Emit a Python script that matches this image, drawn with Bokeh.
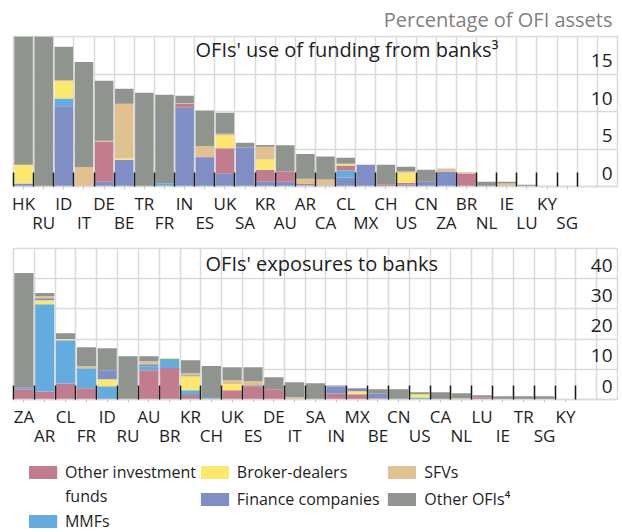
from bokeh.plotting import figure
from bokeh.models import Range1d, LinearAxis, FixedTicker, Grid, ColumnDataSource, Label
from bokeh.layouts import column
from bokeh.embed import file_html
from bokeh.resources import INLINE
from bokeh.core.properties import value

FONT = "Open Sans"

colors = {"oif": "#C17D8D", "mmf": "#64ACE0", "broker": "#FDE86E",
          "finance": "#7F8FC6", "sfv": "#E0C18F", "other": "#8F958E"}

# ---- Panel 1: OFIs' use of funding from banks ----
top_countries = ["HK", "RU", "ID", "IT", "DE", "BE", "TR", "FR", "IN", "ES", "UK", "SA", "KR", "AU",
                 "AR", "CA", "CL", "MX", "CH", "US", "CN", "ZA", "BR", "NL", "IE", "LU", "KY", "SG"]
top_finance = [0.4, 0, 10.7, 0, 0.65, 3.55, 0, 0, 10.5, 3.9, 1.7, 5.2, 0.65, 0.65,
               0.1, 0, 1.2, 2.9, 0, 0.25, 0.65, 2.0, 0, 0, 0, 0, 0, 0]
top_mmf = [0, 0, 1.05, 0, 0, 0, 0, 0.45, 0, 0, 0, 0, 0, 0,
           0.1, 0, 0.95, 0, 0, 0, 0, 0, 0, 0, 0, 0, 0, 0]
top_oif = [0, 0, 0, 0, 5.3, 0, 0, 0, 0.5, 0.1, 3.4, 0, 1.6, 1.35,
           0.15, 0, 0.65, 0, 0.25, 0.25, 0, 0, 1.75, 0, 0, 0, 0, 0]
top_broker = [2.5, 0, 2.4, 0, 0, 0.2, 0, 0, 0, 0, 1.7, 0, 1.35, 0,
              0, 0, 0.25, 0, 0, 1.35, 0, 0, 0, 0, 0, 0, 0, 0]
top_sfv = [0, 0, 0, 2.6, 0.15, 7.3, 0, 0, 0.1, 1.4, 0.25, 0, 1.7, 0,
           0.7, 0.95, 0, 0, 0, 0.15, 0, 0.4, 0.15, 0, 0.4, 0, 0, 0]
top_other = [17.1, 20, 4.5, 14.0, 8.0, 2.0, 12.5, 11.8, 1.0, 4.75, 2.8, 0.65, 0.25, 3.5,
             3.3, 3.05, 0.8, 0, 2.65, 0.65, 1.6, 0, 0, 0.65, 0.25, 0.25, 0, 0]
top_ticks = [0, 5, 10, 15, 20]
top_tick_labels = ["0", "5", "10", "15", ""]

# ---- Panel 2: OFIs' exposures to banks ----
bot_countries = ["ZA", "AR", "CL", "FR", "ID", "RU", "AU", "BR", "KR", "CH", "UK", "ES", "DE", "IT",
                 "SA", "IN", "MX", "BE", "CN", "US", "CA", "NL", "LU", "IE", "TR", "SG", "KY"]
bot_oif = [3.4, 2.65, 5.3, 3.75, 0, 0, 9.7, 10.4, 1.45, 0.45, 3.1, 4.4, 3.4, 0,
           0, 2.0, 1.75, 0.45, 0, 0, 0, 0, 0.75, 0, 0, 0, 0]
bot_mmf = [0.5, 28.9, 14.3, 6.6, 4.4, 0, 1.3, 3.0, 1.65, 0.35, 0, 0, 0, 0,
           0, 0, 0, 0, 0, 0.65, 0, 0, 0, 0, 0, 0, 0]
bot_broker = [0, 1.3, 0.45, 0, 2.3, 0, 0, 0.35, 4.6, 0, 2.0, 0, 0, 0,
              0, 0, 1.0, 0, 0, 1.1, 0, 0, 0, 0, 0, 0, 0]
bot_finance = [0.25, 0.65, 0.3, 0, 3.0, 0, 0.65, 0, 0.35, 0, 0, 0.35, 0, 0,
               0, 2.3, 1.0, 1.5, 0, 0, 0, 0, 0, 0, 0, 0, 0]
bot_sfv = [0, 0.75, 0, 0.65, 0, 0, 1.0, 0, 0.65, 0, 1.3, 1.3, 0, 0.75,
           0, 0, 0, 0, 0, 0, 0, 0.45, 0, 0, 0, 0, 0]
bot_other = [37.7, 1.0, 1.55, 6.3, 7.3, 14.3, 1.65, 0, 4.3, 10.3, 4.3, 4.6, 4.0, 5.0,
             5.4, 0.35, 0, 1.45, 3.4, 0.65, 2.4, 1.65, 0.65, 1.1, 1.1, 1.1, 0]
bot_ticks = [0, 10, 20, 30, 40, 50]
bot_tick_labels = ["0", "10", "20", "30", "40", ""]

GRID = "#DADADA"
TXT = "#1E1E1E"


def make_panel(countries, data, stack_order, n_slots, ymax, ticks, tick_labels, title,
               height, border_top, border_bottom, title_xy, head=None):
    p = figure(width=622, height=height, x_range=Range1d(-0.5, n_slots - 0.5),
               y_range=Range1d(0, ymax), x_axis_type=None, y_axis_type=None,
               output_backend="svg", toolbar_location=None,
               min_border_left=13, min_border_right=5,
               min_border_top=border_top, min_border_bottom=border_bottom,
               title=head)
    p.outline_line_color = GRID
    p.outline_line_width = 1.5
    p.background_fill_color = "white"
    p.border_fill_color = "white"
    if head:
        p.title.align = "right"
        p.title.text_font = FONT
        p.title.text_font_size = "20px"
        p.title.text_font_style = "normal"
        p.title.text_color = "#808080"
        p.title.standoff = 7
        p.title.offset = 5
    n = len(countries)
    bounds = [i - 0.5 for i in range(n_slots + 1)]
    p.add_layout(Grid(dimension=0, ticker=FixedTicker(ticks=bounds),
                      grid_line_color=GRID, grid_line_width=1.5))
    p.add_layout(Grid(dimension=1, ticker=FixedTicker(ticks=ticks),
                      grid_line_color=GRID, grid_line_width=1.5))

    src = dict(x=list(range(n)))
    src.update(data)
    source = ColumnDataSource(src)
    p.vbar_stack(stack_order, x="x", width=0.92, source=source,
                 color=[colors[k] for k in stack_order], line_color=None)

    # category axis: first row labels + tick marks
    ax1 = LinearAxis(ticker=FixedTicker(ticks=list(range(n)),
                                        minor_ticks=[i - 0.5 for i in range(n + 1)]))
    ax1.major_label_overrides = {i: (c if i % 2 == 0 else "") for i, c in enumerate(countries)}
    ax1.axis_line_color = GRID
    ax1.axis_line_width = 1.5
    ax1.major_tick_line_color = "#C8C8C8"
    ax1.major_tick_out = 3
    ax1.major_tick_in = 0
    ax1.minor_tick_line_color = "#1A1A1A"
    ax1.minor_tick_line_width = 1.5
    ax1.minor_tick_in = 14
    ax1.minor_tick_out = 0
    ax1.major_label_standoff = 2
    ax1.major_label_text_font = FONT
    ax1.major_label_text_font_size = "17px"
    ax1.major_label_text_color = TXT
    p.add_layout(ax1, "below")
    # second row labels
    ax2 = LinearAxis(ticker=FixedTicker(ticks=[i for i in range(n) if i % 2 == 1]))
    ax2.major_label_overrides = {i: c for i, c in enumerate(countries) if i % 2 == 1}
    ax2.axis_line_color = None
    ax2.major_tick_line_color = None
    ax2.minor_tick_line_color = None
    ax2.major_tick_out = 0
    ax2.major_tick_in = 0
    ax2.minor_tick_out = 0
    ax2.minor_tick_in = 0
    ax2.major_label_standoff = -7
    ax2.major_label_text_font = FONT
    ax2.major_label_text_font_size = "17px"
    ax2.major_label_text_color = TXT
    p.add_layout(ax2, "below")

    # value tick labels inside the plot at the right
    p.text(x=[n_slots - 0.5] * len(ticks), y=ticks, text=tick_labels,
           text_align="right", text_baseline="bottom", x_offset=-5, y_offset=-7,
           text_font=value(FONT), text_font_size="19px", text_color=TXT)

    p.add_layout(Label(x=title_xy[0], y=title_xy[1], text=title, text_align="left",
                       text_baseline="middle", text_font=FONT, text_font_size="20px",
                       text_color=TXT))
    return p


top_data = dict(oif=top_oif, mmf=top_mmf, broker=top_broker, finance=top_finance,
                sfv=top_sfv, other=top_other)
bot_data = dict(oif=bot_oif, mmf=bot_mmf, broker=bot_broker, finance=bot_finance,
                sfv=bot_sfv, other=bot_other)

p1 = make_panel(top_countries, top_data,
                ["finance", "mmf", "oif", "broker", "sfv", "other"],
                30, 20, top_ticks, top_tick_labels,
                "OFIs' use of funding from banks\u00b3",
                238, 36, 52, (8.54, 18.3), head="Percentage of OFI assets")
p2 = make_panel(bot_countries, bot_data,
                ["oif", "mmf", "broker", "finance", "sfv", "other"],
                29, 50, bot_ticks, bot_tick_labels,
                "OFIs' exposures to banks",
                213, 10, 52, (8.72, 45.0))

# ---- legend ----
LH = 81
leg = figure(width=622, height=LH, x_range=Range1d(0, 622), y_range=Range1d(LH, 0),
             x_axis_type=None, y_axis_type=None, output_backend="svg",
             toolbar_location=None, min_border=0)
leg.outline_line_color = None
leg_labels = ["Other investment", "MMFs", "Broker-dealers", "Finance companies",
              "SFVs", "Other OFIs\u2074"]
leg_keys = ["oif", "mmf", "broker", "finance", "sfv", "other"]
sw_x = [30.5, 30.5, 207.5, 207.5, 400, 400]
sw_y = [21, 70, 21, 48, 21, 48]
tx_x = [53, 53, 230, 230, 423, 423]
tx_y = [20, 69, 20, 47, 20, 47]
leg.rect(x=sw_x, y=sw_y, width=29, height=13, color=[colors[k] for k in leg_keys],
         line_color=None)
leg.text(x=tx_x, y=tx_y, text=leg_labels, text_align="left", text_baseline="middle",
         text_font=value(FONT), text_font_size="16px", text_color=TXT)
# second line of the first legend entry
leg.text(x=[53], y=[44], text=["funds"], text_align="left", text_baseline="middle",
         text_font=value(FONT), text_font_size="16px", text_color=TXT)

layout = column(p1, p2, leg, spacing=0)
open("out.html", "w").write(file_html(layout, INLINE))
